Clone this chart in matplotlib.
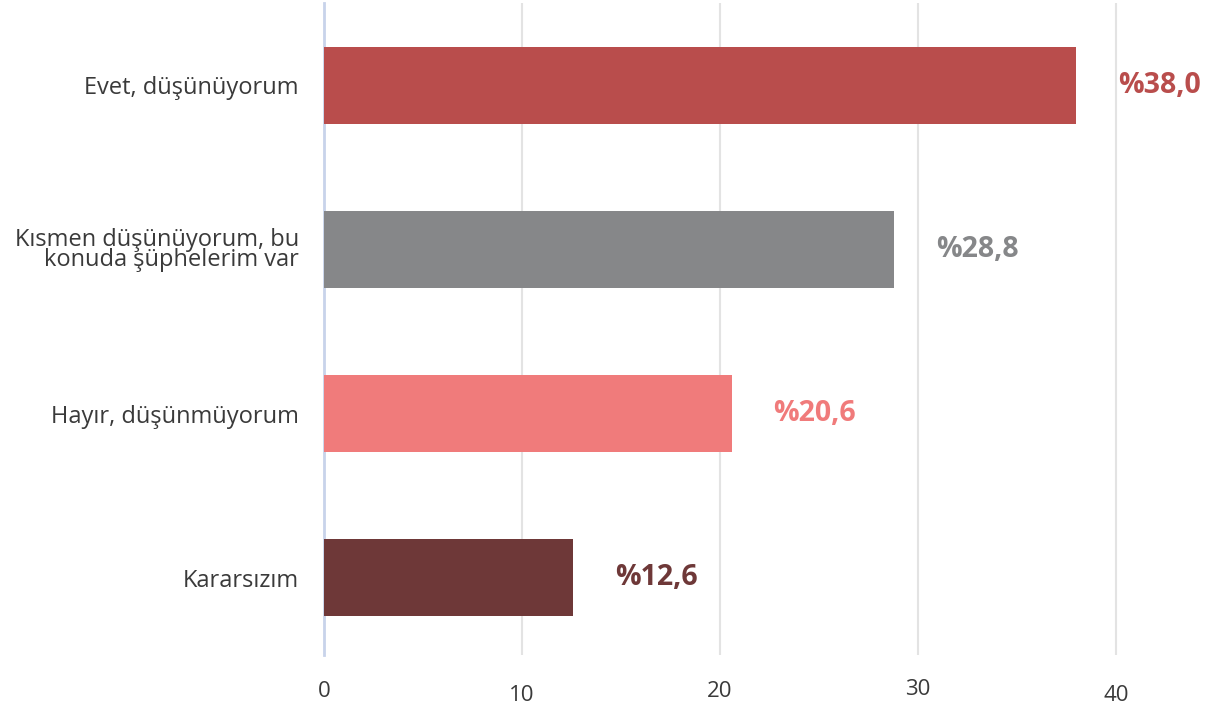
import numpy as np
import matplotlib.pyplot as plt

categories = ['Evet, düşünüyorum', 'Kısmen düşünüyorum, bu\nkonuda şüphelerim var',
              'Hayır, düşünmüyorum', 'Kararsızım']
values = [38.0, 28.8, 20.6, 12.6]
labels = ['%38,0', '%28,8', '%20,6', '%12,6']
colors = ['#B94D4C', '#868789', '#F07B7B', '#6E3838']
xticks = [0, 10, 20, 30, 40]

plt.rcParams['font.family'] = ['Open Sans', 'DejaVu Sans']

f = plt.figure(figsize=(12.15, 7.06), dpi=100)
ax = f.add_axes([324/1215, 51/706, 1 - 324/1215, 652/706])

y = np.arange(len(categories))
ax.barh(y, values, height=0.47, color=colors, zorder=3)

for yi, v, lab, c in zip(y, values, labels, colors):
    ax.text(v + 2.1, yi, lab, color=c, fontsize=20.5, fontweight='bold', va='center', ha='left')

ax.set_xlim(0, 45)
ax.set_ylim(3.47, -0.5)
ax.set_yticks(y)
ax.set_yticklabels(categories, fontsize=17, color='#3a3a3a', linespacing=0.78, ha='right')
ax.set_xticks(xticks)
ax.set_xticklabels([str(t) for t in xticks], fontsize=16, color='#3a3a3a')
ax.tick_params(axis='both', length=0)
ax.tick_params(axis='x', pad=19)
ax.tick_params(axis='y', pad=18)

# staggered tick labels like the original
for lab, dy in zip(ax.get_xticklabels(), [0, -4, 0, 2, -4]):
    lab.set_y(lab.get_position()[1] + dy/652)

ax.grid(axis='x', color='#E3E3E3', linewidth=1.5, zorder=0)
for s in ['top', 'right', 'bottom']:
    ax.spines[s].set_visible(False)
ax.spines['left'].set_color('#C8D3EA')
ax.spines['left'].set_linewidth(2)

f.patch.set_facecolor('white')
f.savefig('out.png', dpi=100)
